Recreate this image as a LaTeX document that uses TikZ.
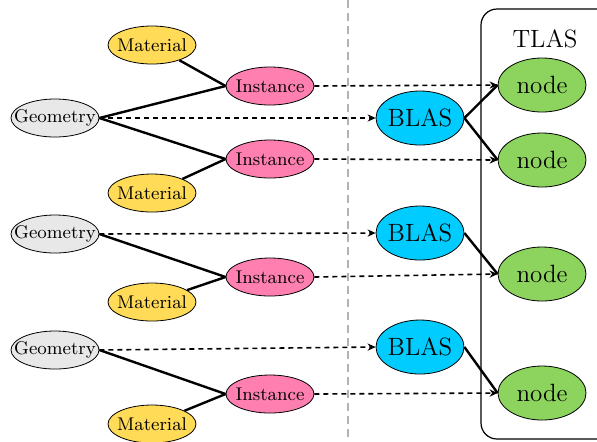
\documentclass[tikz,border=0pt]{standalone}
\usetikzlibrary{shapes.geometric,arrows.meta}

\definecolor{matyellow}{RGB}{255,219,88}
\definecolor{instpink}{RGB}{255,128,176}
\definecolor{geogray}{RGB}{232,232,232}
\definecolor{blascyan}{RGB}{0,204,255}
\definecolor{tlasgreen}{RGB}{140,212,94}

\begin{document}
\begin{tikzpicture}[x=0.5pt,y=-0.5pt,
  fixed/.style={execute at begin node={\hbox to 0pt\bgroup\hss},execute at end node={\hss\egroup}},
  elp/.style={draw,ellipse,fixed,inner sep=0pt,minimum width=44pt,minimum height=19pt,font=\fontsize{9.2}{11}\selectfont},
  big/.style={draw,ellipse,fixed,inner sep=0pt,minimum width=44pt,minimum height=27pt,font=\fontsize{12.5}{14}\selectfont},
  link/.style={line width=1.2pt},
  ref/.style={line width=0.8pt,dash pattern=on 2.5pt off 2pt,-{Stealth[length=4pt,width=3.6pt]}}]
  \useasboundingbox (0,0) rectangle (597,441);
  \clip (0,0) rectangle (597,441);
  % divider and TLAS frame
  \draw[gray!60,line width=1pt,dash pattern=on 4pt off 2.5pt] (348,0) -- (348,441);
  \draw[rounded corners=8pt,line width=0.6pt] (481,9) rectangle (640,439);
  \node[font=\fontsize{12.5}{14}\selectfont] (tlas) at (545,39) {TLAS};
  % scene objects
  \node[elp,fill=matyellow] (mat1) at (152,45)  {Material};
  \node[elp,fill=instpink]  (inst1) at (270,86) {Instance};
  \node[elp,fill=geogray]   (geo1) at (55,118)  {Geometry};
  \node[elp,fill=instpink]  (inst2) at (270,159) {Instance};
  \node[elp,fill=matyellow] (mat2) at (152,193) {Material};
  \node[elp,fill=geogray]   (geo2) at (55,234)  {Geometry};
  \node[elp,fill=instpink]  (inst3) at (270,277) {Instance};
  \node[elp,fill=matyellow] (mat3) at (152,302) {Material};
  \node[elp,fill=geogray]   (geo3) at (55,350)  {Geometry};
  \node[elp,fill=instpink]  (inst4) at (270,394) {Instance};
  \node[elp,fill=matyellow] (mat4) at (152,424) {Material};
  % acceleration structures
  \node[big,fill=blascyan] (blas1) at (420,118) {BLAS};
  \node[big,fill=blascyan] (blas2) at (420,233) {BLAS};
  \node[big,fill=blascyan] (blas3) at (420,347) {BLAS};
  \node[big,fill=tlasgreen] (tl1) at (542,85)  {node};
  \node[big,fill=tlasgreen] (tl2) at (542,160) {node};
  \node[big,fill=tlasgreen] (tl3) at (542,274) {node};
  \node[big,fill=tlasgreen] (tl4) at (542,393) {node};
  % connections
  \foreach \a/\b in {mat1/inst1,mat2/inst2,mat3/inst3,mat4/inst4}
    \draw[link] (\a) -- (\b.west);
  \foreach \a/\b in {geo1/inst1,geo1/inst2,geo2/inst3,geo3/inst4,blas1/tl1,blas1/tl2,blas2/tl3,blas3/tl4}
    \draw[link] (\a.east) -- (\b.west);
  \foreach \a/\b in {geo1/blas1,geo2/blas2,geo3/blas3,inst1/tl1,inst2/tl2,inst3/tl3,inst4/tl4}
    \draw[ref] (\a.east) -- (\b.west);
\end{tikzpicture}
\end{document}
